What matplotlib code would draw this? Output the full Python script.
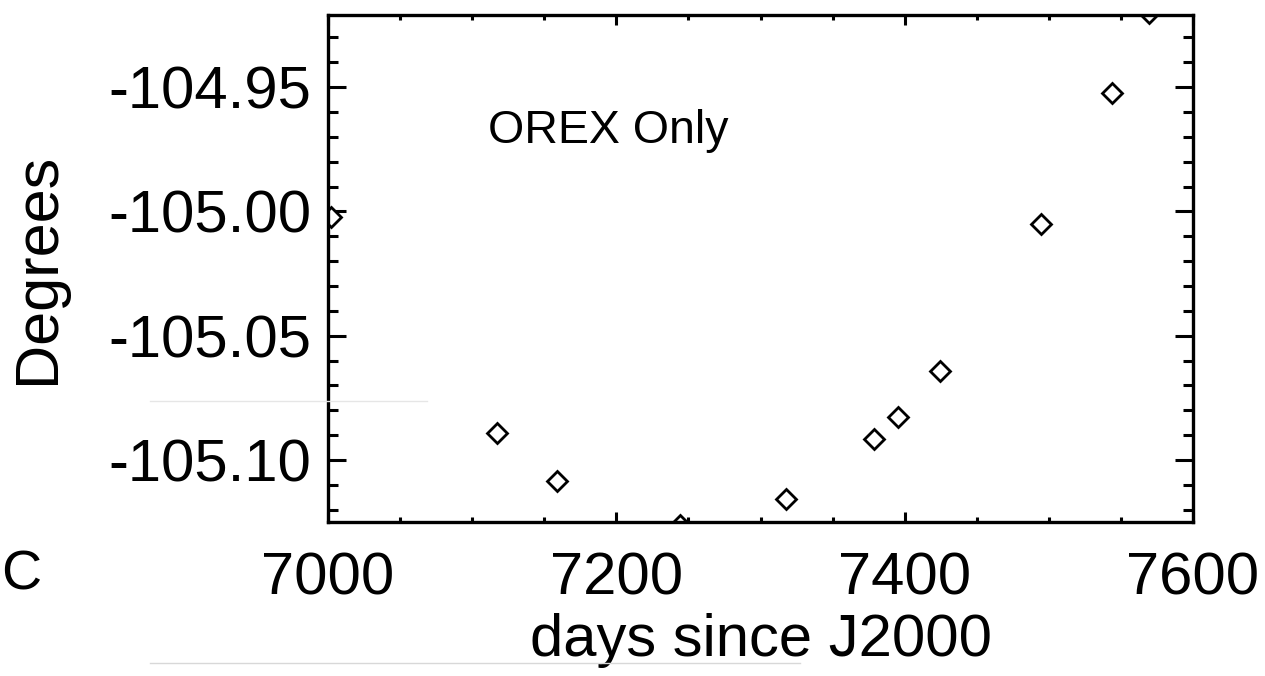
import matplotlib
matplotlib.use("Agg")
import matplotlib.pyplot as plt
from matplotlib.lines import Line2D
from matplotlib.ticker import MultipleLocator

plt.rcParams['font.family'] = ['Liberation Sans', 'DejaVu Sans']

# values
days = [7002, 7117.2, 7158.8, 7244.2, 7317.7, 7378.7, 7395.4, 7424.5, 7494.5, 7543.8, 7569.5]
degrees = [-105.0024, -105.0891, -105.1084, -105.126, -105.1157, -105.0916,
           -105.0827, -105.0642, -105.0052, -104.9524, -104.9202]
x_limits = [7000, 7600]
y_limits = [-105.1249, -104.9210]
x_ticks = [7000, 7200, 7400, 7600]
y_ticks = [-105.10, -105.05, -105.00, -104.95]

fig = plt.figure(figsize=(12.65, 6.76), dpi=100)
ax = fig.add_axes([328 / 1265, 1 - 522 / 676, 865 / 1265, 507 / 676])

ax.plot(days, degrees, linestyle='none', marker='D', ms=10, mfc='white',
        mec='black', mew=2.0)

ax.set_xlim(x_limits)
ax.set_ylim(y_limits)
ax.set_xticks(x_ticks)
ax.set_yticks(y_ticks)
ax.set_yticklabels([f"{v:.2f}" for v in y_ticks])
ax.xaxis.set_minor_locator(MultipleLocator(50))
ax.yaxis.set_minor_locator(MultipleLocator(0.01))

ax.tick_params(axis='both', which='both', direction='in', top=True, right=True,
               width=2.2, labelsize=43, color='black')
ax.tick_params(axis='x', which='major', length=7, pad=21)
ax.tick_params(axis='x', which='minor', length=3.5)
ax.tick_params(axis='y', which='major', length=13, pad=12)
ax.tick_params(axis='y', which='minor', length=7)
for s in ax.spines.values():
    s.set_linewidth(2.4)

ax.set_xlabel("days since J2000", fontsize=43, labelpad=5)
ax.set_ylabel("Degrees", fontsize=44, labelpad=30)

ax.text(7111, -104.9725, "OREX Only", fontsize=33.5, va='baseline', ha='left')

# faint crop leftovers from the source picture
fig.add_artist(Line2D([150 / 1265, 427 / 1265], [1 - 401 / 676] * 2,
                      color='#e6e6e6', lw=1))
fig.add_artist(Line2D([150 / 1265, 800 / 1265], [1 - 663 / 676] * 2,
                      color='#d8d8d8', lw=1))
fig.text(1 / 1265, 1 - 590 / 676, "C", fontsize=40, ha='left', va='baseline')

fig.savefig("out.png", dpi=100)
